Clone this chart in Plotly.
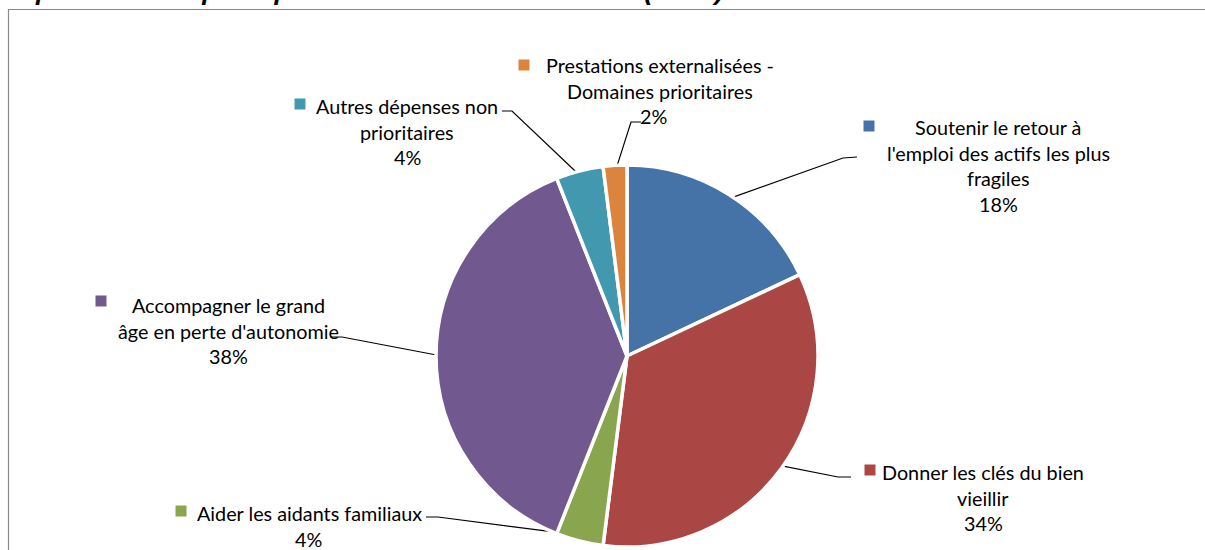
import math
import plotly.graph_objects as go

# Share of the main collective funding lines (in %)
categories = [
    "Soutenir le retour à l'emploi des actifs les plus fragiles",
    "Donner les clés du bien vieillir",
    "Aider les aidants familiaux",
    "Accompagner le grand âge en perte d'autonomie",
    "Autres dépenses non prioritaires",
    "Prestations externalisées - Domaines prioritaires",
]
shares = [18, 34, 4, 38, 4, 2]
label_lines = [
    ["Soutenir le retour à", "l'emploi des actifs les plus", "fragiles"],
    ["Donner les clés du bien", "vieillir"],
    ["Aider les aidants familiaux"],
    ["Accompagner le grand", "âge en perte d'autonomie"],
    ["Autres dépenses non", "prioritaires"],
    ["Prestations externalisées -", "Domaines prioritaires"],
]
colors = ["#4572A7", "#AA4643", "#89A54E", "#71588F", "#4198AF", "#DB843D"]

W, H = 1205, 550
CX, CY, R = 627, 356, 191

# label block placement: (center x, first line y, key x, key y, leader start, leader elbow, pct x)
label_layout = [
    (998, 127, 869, 126, (857, 157), (843, 158), 998),
    (983, 472, 870, 470, (851, 477), (838, 477), 983),
    (309, 513, 181, 511, (426, 517), (438, 517), 308),
    (228, 305, 101, 301, (330, 337), (342, 337), 228),
    (407, 106, 300, 104, (502, 111), (512, 111), 407),
    (660, 65, 524, 65, (641, 122), (631, 122), 653),
]
LINE_H = 25.5
FONT = "Lato, Liberation Sans, sans-serif"
FSIZE = 19.8

fig = go.Figure()

fig.add_trace(go.Pie(
    labels=categories,
    values=shares,
    sort=False,
    direction="clockwise",
    rotation=0,
    marker=dict(colors=colors, line=dict(color="white", width=3.5)),
    textinfo="none",
    hoverinfo="label+percent",
    showlegend=False,
    domain=dict(x=[(CX - R) / W, (CX + R) / W], y=[(H - (CY + R)) / H, (H - (CY - R)) / H]),
))

total = sum(shares)
cum = 0
annotations = []
shapes = []


def text_line(x, y, s):
    return dict(x=x, y=y, text=s, xref="x", yref="y", xanchor="center", yanchor="middle",
                showarrow=False, font=dict(family=FONT, size=FSIZE, color="#000"))


for i, v in enumerate(shares):
    mid = 2 * math.pi * (cum + v / 2) / total
    cum += v
    ex = CX + R * 0.97 * math.sin(mid)
    ey = CY - R * 0.97 * math.cos(mid)
    cx_lbl, top, kx, ky, start, elbow, px = label_layout[i]
    lines = label_lines[i]
    for k, s in enumerate(lines):
        annotations.append(text_line(cx_lbl, top + k * LINE_H, s))
    annotations.append(text_line(px, top + len(lines) * LINE_H, f"{round(100 * v / total)}%"))
    shapes.append(dict(type="rect", xref="x", yref="y", x0=kx - 5.5, x1=kx + 5.5, y0=ky - 5.5, y1=ky + 5.5,
                       fillcolor=colors[i], line=dict(width=0)))
    fig.add_trace(go.Scatter(
        x=[start[0], elbow[0], ex], y=[start[1], elbow[1], ey], mode="lines",
        line=dict(color="#000", width=1.2), hoverinfo="skip", showlegend=False,
    ))

# chart frame
shapes.append(dict(type="rect", xref="x", yref="y", x0=8.5, x1=1210, y0=9.5, y1=560,
                   line=dict(color="#8a8a8a", width=1.2), layer="below"))

# title, mostly clipped at the top edge
annotations.append(dict(x=0, y=8, text="<b><i>Répartition des principaux financements collectifs (en %)</i></b>",
                        xref="x", yref="y", xanchor="left", yanchor="bottom", showarrow=False,
                        font=dict(family="Liberation Sans, Arial, sans-serif", size=26.5, color="#000")))

fig.update_layout(
    width=W, height=H,
    margin=dict(l=0, r=0, t=0, b=0),
    paper_bgcolor="white", plot_bgcolor="rgba(0,0,0,0)",
    xaxis=dict(range=[0, W], visible=False, fixedrange=True, domain=[0, 1]),
    yaxis=dict(range=[H, 0], visible=False, fixedrange=True, domain=[0, 1]),
    annotations=annotations, shapes=shapes,
)

fig.write_html("out.html")
